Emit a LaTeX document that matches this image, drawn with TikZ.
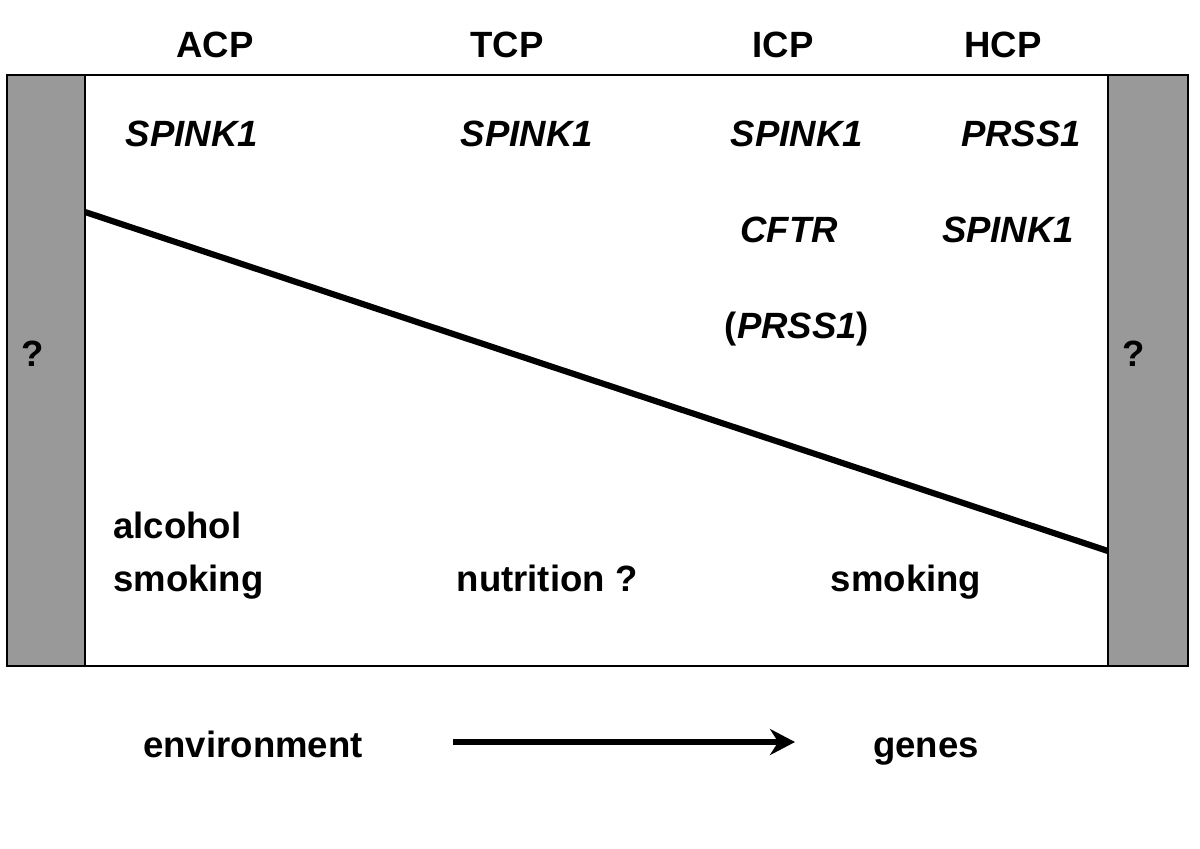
\documentclass[tikz,border=0pt]{standalone}
\usepackage{fontspec}
\setmainfont{Liberation Sans}
\usepackage{tikz}
\usetikzlibrary{arrows.meta, positioning}
\tikzset{
	lbl/.style={font=\fontsize{20.8}{30}\selectfont\bfseries, anchor=base, inner sep=0pt},
	gene/.style={lbl, font=\fontsize{20.8}{30}\selectfont\bfseries\itshape},
	sidebar/.style={draw, line width=1.1pt, fill=black!40},
	trendline/.style={line width=3.5pt},
	dirarr/.style={-{Stealth[length=0.5cm, width=0.52cm]}, line width=3.2pt},
}
\begin{document}
\begin{tikzpicture}
				\useasboundingbox (0,0) rectangle (24,-16.96);
				% frame and grey side bars
				\draw[line width=1.1pt] (0.14,-1.50) rectangle (23.76,-13.32);
				\draw[sidebar] (0.14,-1.50) rectangle (1.70,-13.32);
				\draw[sidebar] (22.16,-1.50) rectangle (23.76,-13.32);
				\node[lbl] (ql) at (0.66,-7.32) {?};
				\node[lbl] (qr) at (22.68,-7.32) {?};
				% column headers
				\node[lbl] (acp) at (4.30,-1.14) {ACP};
				\node[lbl] (tcp) at (10.14,-1.14) {TCP};
				\node[lbl] (icp) at (15.66,-1.14) {ICP};
				\node[lbl] (hcp) at (20.06,-1.14) {HCP};
				% genes
				\node[gene] (acpg1) at (3.84,-2.92) {SPINK1};
				\node[gene] (tcpg1) at (10.54,-2.92) {SPINK1};
				\node[gene] (icpg1) at (15.94,-2.92) {SPINK1};
				\node[gene] (icpg2) at (15.78,-4.84) {CFTR};
				\node[lbl] (icpg3) at (15.94,-6.76) {(\textit{PRSS1})};
				\node[gene] (hcpg1) at (20.42,-2.92) {PRSS1};
				\node[gene] (hcpg2) at (20.16,-4.84) {SPINK1};
				% environment
				\node[lbl, anchor=base west, align=left] (acpe) at (2.26,-11.82) {alcohol\\smoking};
				\node[lbl] (tcpe) at (10.94,-11.82) {nutrition ?};
				\node[lbl] (icpe) at (18.12,-11.82) {smoking};
				% dividing line
				\coordinate (t0) at (1.70,-4.24);
				\coordinate (t1) at (22.16,-11.02);
				\draw[trendline] (t0) -- (t1);
				% bottom axis
				\node[lbl] (env) at (5.06,-15.14) {environment};
				\node[lbl] (genes) at (18.52,-15.14) {genes};
				\coordinate (a0) at (9.06,-14.84);
				\coordinate (a1) at (15.90,-14.84);
				\draw[dirarr] (a0) -- (a1);
			\end{tikzpicture}
\end{document}
